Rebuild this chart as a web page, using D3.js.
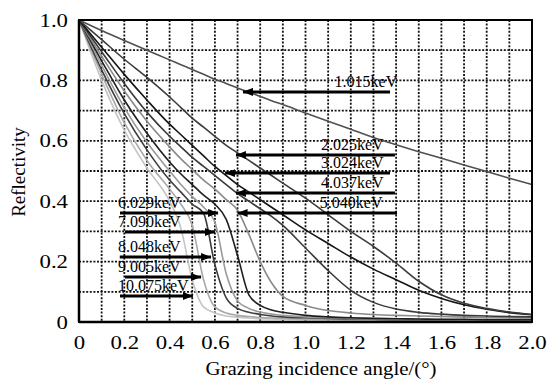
<!DOCTYPE html>
<html>
<head>
<meta charset="utf-8">
<script src="https://cdn.jsdelivr.net/npm/d3@7"></script>
<style>
body { margin: 0; background: #fff; }
text { font-family: "Liberation Serif", "Times New Roman", serif; fill: #000; }
</style>
</head>
<body>
<svg id="chart" width="553" height="382"></svg>
<script>
// grazing angles (deg) shared by every series
var angles = [0, 0.1, 0.2, 0.3, 0.4, 0.45, 0.5, 0.55, 0.6, 0.65, 0.7, 0.75, 0.8, 0.85, 0.9, 1.0, 1.1, 1.2, 1.3, 1.4, 1.5, 1.6, 1.7, 1.8, 1.9, 2.0];

var r1015 = [1, 0.965, 0.932, 0.9, 0.868, 0.852, 0.836, 0.82, 0.804, 0.79, 0.775, 0.761, 0.747, 0.733, 0.72, 0.692, 0.665, 0.638, 0.611, 0.587, 0.564, 0.542, 0.52, 0.498, 0.476, 0.455];
var r2025 = [1, 0.935, 0.87, 0.81, 0.745, 0.71, 0.675, 0.645, 0.615, 0.585, 0.56, 0.535, 0.51, 0.485, 0.46, 0.41, 0.355, 0.3, 0.25, 0.195, 0.135, 0.09, 0.062, 0.045, 0.033, 0.025];
var r3024 = [1, 0.91, 0.82, 0.735, 0.655, 0.62, 0.585, 0.55, 0.515, 0.485, 0.455, 0.43, 0.405, 0.38, 0.355, 0.305, 0.26, 0.215, 0.175, 0.14, 0.105, 0.078, 0.057, 0.042, 0.031, 0.024];
var r4037 = [1, 0.895, 0.79, 0.695, 0.615, 0.58, 0.545, 0.515, 0.485, 0.455, 0.425, 0.4, 0.375, 0.35, 0.32, 0.245, 0.17, 0.105, 0.065, 0.043, 0.032, 0.026, 0.022, 0.02, 0.018, 0.017];
var r5040 = [1, 0.88, 0.765, 0.665, 0.58, 0.54, 0.505, 0.47, 0.44, 0.405, 0.37, 0.29, 0.2, 0.13, 0.085, 0.055, 0.038, 0.03, 0.025, 0.022, 0.02, 0.018, 0.016, 0.015, 0.014, 0.013];
var r6029 = [1, 0.865, 0.735, 0.625, 0.53, 0.49, 0.455, 0.42, 0.39, 0.34, 0.22, 0.09, 0.055, 0.04, 0.032, 0.022, 0.017, 0.014, 0.012, 0.011, 0.01, 0.009, 0.009, 0.008, 0.008, 0.008];
var r7090 = [1, 0.85, 0.71, 0.595, 0.5, 0.455, 0.415, 0.38, 0.33, 0.16, 0.07, 0.045, 0.033, 0.026, 0.022, 0.017, 0.014, 0.012, 0.01, 0.009, 0.008, 0.008, 0.007, 0.007, 0.007, 0.006];
var r8048 = [1, 0.835, 0.69, 0.57, 0.47, 0.43, 0.39, 0.36, 0.19, 0.08, 0.045, 0.032, 0.025, 0.02, 0.017, 0.014, 0.012, 0.01, 0.009, 0.008, 0.007, 0.007, 0.006, 0.006, 0.006, 0.005];
var r9005 = [1, 0.82, 0.66, 0.535, 0.44, 0.39, 0.32, 0.14, 0.05, 0.03, 0.022, 0.018, 0.015, 0.013, 0.012, 0.01, 0.009, 0.008, 0.007, 0.006, 0.006, 0.005, 0.005, 0.005, 0.005, 0.005];
var r10075 = [1, 0.8, 0.635, 0.51, 0.4, 0.31, 0.14, 0.05, 0.03, 0.02, 0.016, 0.013, 0.011, 0.01, 0.009, 0.008, 0.007, 0.006, 0.006, 0.005, 0.005, 0.005, 0.004, 0.004, 0.004, 0.004];

var energies = ["10.075keV", "9.005keV", "8.048keV", "7.090keV", "6.029keV", "5.040keV", "4.037keV", "3.024keV", "2.025keV", "1.015keV"];
var series = [r10075, r9005, r8048, r7090, r6029, r5040, r4037, r3024, r2025, r1015];
var shades = ["#c4c4c4", "#a8a8a8", "#3c3c3c", "#9a9a9a", "#1e1e1e", "#8a8a8a", "#3a3a3a", "#151515", "#3c3c3c", "#505050"];

// annotation arrows: label, reflectivity level, tail angle, tip angle, label anchor angle
var notes = [
	["1.015keV", 0.762, 1.373, 0.724, 1.405],
	["2.025keV", 0.553, 1.395, 0.693, 1.345],
	["3.024keV", 0.493, 1.373, 0.645, 1.345],
	["4.037keV", 0.427, 1.395, 0.693, 1.345],
	["5.040keV", 0.361, 1.404, 0.700, 1.34],
	["6.029keV", 0.361, 0.181, 0.614, 0.172],
	["7.090keV", 0.298, 0.203, 0.600, 0.172],
	["8.048keV", 0.215, 0.180, 0.583, 0.172],
	["9.005keV", 0.149, 0.203, 0.539, 0.172],
	["10.075keV", 0.086, 0.181, 0.503, 0.172]
];

var xTicks = d3.range(0, 2.01, 0.2);
var yTicks = [0, 0.2, 0.4, 0.6, 0.8, 1.0];

var margin = {top: 20, right: 21, bottom: 60, left: 79};
var width = 553 - margin.left - margin.right;
var height = 382 - margin.top - margin.bottom;

var svg = d3.select("#chart");
var g = svg.append("g").attr("transform", "translate(" + margin.left + "," + margin.top + ")");

var x = d3.scaleLinear().domain([0, 2]).range([0, width]);
var y = d3.scaleLinear().domain([0, 1]).range([height, 0]);

// dotted grid
g.append("g").selectAll("line").data(d3.range(1, 20).map(function(i){ return i / 10; }))
	.enter().append("line")
	.attr("x1", function(d){ return x(d); }).attr("x2", function(d){ return x(d); })
	.attr("y1", 0).attr("y2", height)
	.style("stroke", "#111").style("stroke-width", "1.8px").style("stroke-dasharray", "2,1.6");
g.append("g").selectAll("line").data(d3.range(1, 10).map(function(i){ return i / 10; }))
	.enter().append("line")
	.attr("x1", 0).attr("x2", width)
	.attr("y1", function(d){ return y(d); }).attr("y2", function(d){ return y(d); })
	.style("stroke", "#111").style("stroke-width", "1.8px").style("stroke-dasharray", "2,1.6");

// curves
var line = d3.line()
	.x(function(d, i){ return x(angles[i]); })
	.y(function(d){ return y(d); })
	.curve(d3.curveMonotoneX);

series.forEach(function(s, i){
	g.append("path")
		.datum(s)
		.attr("class", "line")
		.attr("d", line)
		.style("fill", "none")
		.style("stroke", shades[i])
		.style("stroke-width", "1.6px");
});

// frame
g.append("rect").attr("width", width).attr("height", height)
	.style("fill", "none").style("stroke", "#000").style("stroke-width", "2px");
g.append("line").attr("x1", 0).attr("x2", 0).attr("y1", 0).attr("y2", height)
	.style("stroke", "#000").style("stroke-width", "2.5px");
g.append("line").attr("x1", 0).attr("x2", width).attr("y1", height).attr("y2", height)
	.style("stroke", "#000").style("stroke-width", "2.5px");

// axes (labels only), glyphs a little stretched like the scanned figure
var fmt = function(d){ return d === 0 ? "0" : d3.format(".1f")(d); };
var xAxis = g.append("g").attr("transform", "translate(0," + height + ")")
	.call(d3.axisBottom(x).tickValues(xTicks).tickSize(0).tickPadding(14).tickFormat(fmt));
var yAxis = g.append("g")
	.call(d3.axisLeft(y).tickValues(yTicks).tickSize(0).tickPadding(11).tickFormat(fmt));
[xAxis, yAxis].forEach(function(a){
	a.select(".domain").remove();
	a.selectAll("text").style("font-family", "Liberation Serif").style("font-size", "19px").style("fill", "#000");
});
xAxis.selectAll("text").attr("transform", "scale(1.2,1)");
yAxis.selectAll("text").attr("transform", "translate(-11,0) scale(1.2,1) translate(11,0)");

// arrows
svg.append("defs").append("marker")
	.attr("id", "head").attr("viewBox", "0 0 10 8")
	.attr("refX", 10).attr("refY", 4)
	.attr("markerWidth", 10).attr("markerHeight", 8)
	.attr("markerUnits", "userSpaceOnUse")
	.attr("orient", "auto")
	.append("path").attr("d", "M0,0L10,4L0,8Z").style("fill", "#000");

notes.forEach(function(n){
	var toRight = n[2] < n[3];
	g.append("line")
		.attr("x1", x(n[2])).attr("x2", x(n[3]))
		.attr("y1", y(n[1])).attr("y2", y(n[1]))
		.style("stroke", "#000").style("stroke-width", "3px")
		.attr("marker-end", "url(#head)");
	g.append("text")
		.attr("x", x(n[4]))
		.attr("y", y(n[1]) - 5)
		.attr("text-anchor", toRight ? "start" : "end")
		.style("font-size", "16px")
		.text(n[0]);
});

// axis titles
svg.append("text")
	.attr("transform", "translate(321,375) scale(1.1,1)")
	.attr("text-anchor", "middle")
	.style("font-size", "19px")
	.text("Grazing incidence angle/(°)");
svg.append("text")
	.attr("transform", "translate(25,172) rotate(-90)")
	.attr("text-anchor", "middle")
	.style("font-size", "19px")
	.text("Reflectivity");
</script>
</body>
</html>
